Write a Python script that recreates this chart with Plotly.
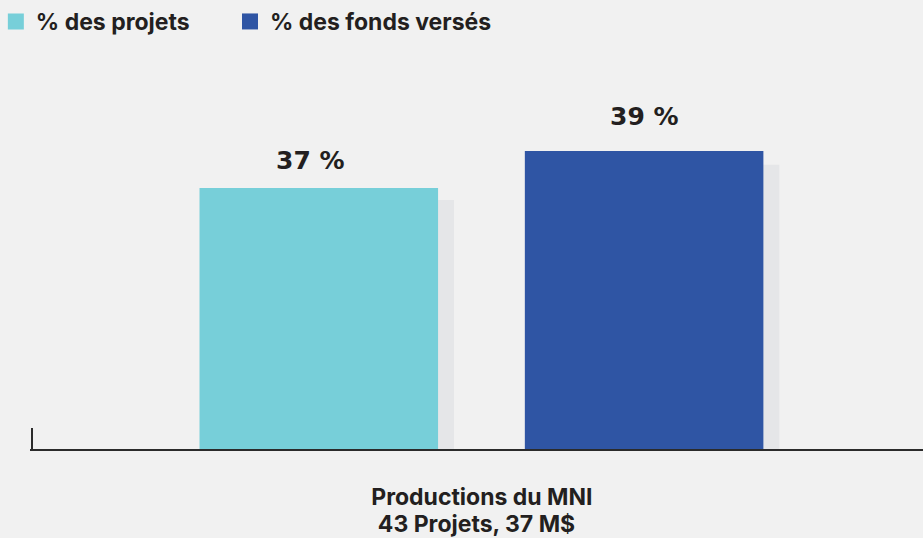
import plotly.graph_objects as go

category = ["Productions du MNI"]
category_detail = "43 Projets, 37 M$"
series_names = ["% des projets", "% des fonds versés"]
values_projets = [37]
values_fonds = [39]
shadow_projets = [36.35]
shadow_fonds = [38.25]
labels = ["37 %", "39 %"]

colors = ["#77CFD9", "#2F55A4"]
shadow_color = "#E5E6E8"
bg = "#F1F1F1"
txt = "#231F20"

bar_w = 0.265
offsets = [-0.3137, 0.0477]
shadow_dx = 0.0177
label_xshift = [-8, 0]
label_yshift = [11, 18]

fig = go.Figure()
all_vals = [values_projets, values_fonds]
all_shadow = [shadow_projets, shadow_fonds]
for i in range(2):
    fig.add_trace(go.Bar(x=category, y=all_shadow[i], width=bar_w, offset=offsets[i] + shadow_dx,
                         marker=dict(color=shadow_color, line=dict(width=0)), showlegend=False,
                         hoverinfo="skip"))
for i in range(2):
    fig.add_trace(go.Bar(x=category, y=all_vals[i], width=bar_w, offset=offsets[i],
                         marker=dict(color=colors[i], line=dict(width=0)), showlegend=False,
                         name=series_names[i]))
    fig.add_annotation(x=offsets[i] + bar_w / 2, y=all_vals[i][0], xref="x", yref="y",
                       text=labels[i], showarrow=False, yanchor="bottom",
                       yshift=label_yshift[i], xshift=label_xshift[i],
                       font=dict(family="DejaVu Sans", size=25, color=txt, weight=700))
legend_ids = ["legend", "legend2"]
for i in range(2):
    fig.add_trace(go.Scatter(x=[None], y=[None], mode="markers", name=series_names[i],
                             legend=legend_ids[i],
                             marker=dict(symbol="square", size=16, color=colors[i])))

legend_style = dict(orientation="h", y=1, xref="container", yref="container",
                    xanchor="left", yanchor="top",
                    font=dict(family="Inter", size=23, color=txt, weight=700),
                    itemwidth=30, bgcolor="rgba(0,0,0,0)", indentation=-6)

fig.update_layout(
    width=923, height=538,
    paper_bgcolor=bg, plot_bgcolor=bg,
    margin=dict(l=30, r=0, t=60, b=89),
    barmode="overlay",
    showlegend=True,
    legend=dict(x=0.002, **legend_style),
    legend2=dict(x=236 / 923, **legend_style),
    xaxis=dict(type="category", range=[-0.502, 0.49], showline=True, linecolor="#2B2B2B",
               linewidth=2, ticks="inside", tickson="boundaries", ticklen=21, tickwidth=2,
               tickcolor="#2B2B2B", showgrid=False, zeroline=False, ticklabelstandoff=26,
               tickfont=dict(family="Inter", size=23, color=txt, weight=700),
               title=dict(text=category_detail, standoff=2,
                          font=dict(family="Inter", size=23, color=txt, weight=700))),
    yaxis=dict(range=[22.89, 22.89 + 389 / 18.5], visible=False, showgrid=False, zeroline=False),
)

fig.write_html("out.html", config={"displayModeBar": False},
               post_script="document.body.style.margin='0';document.body.style.overflow='hidden';")
